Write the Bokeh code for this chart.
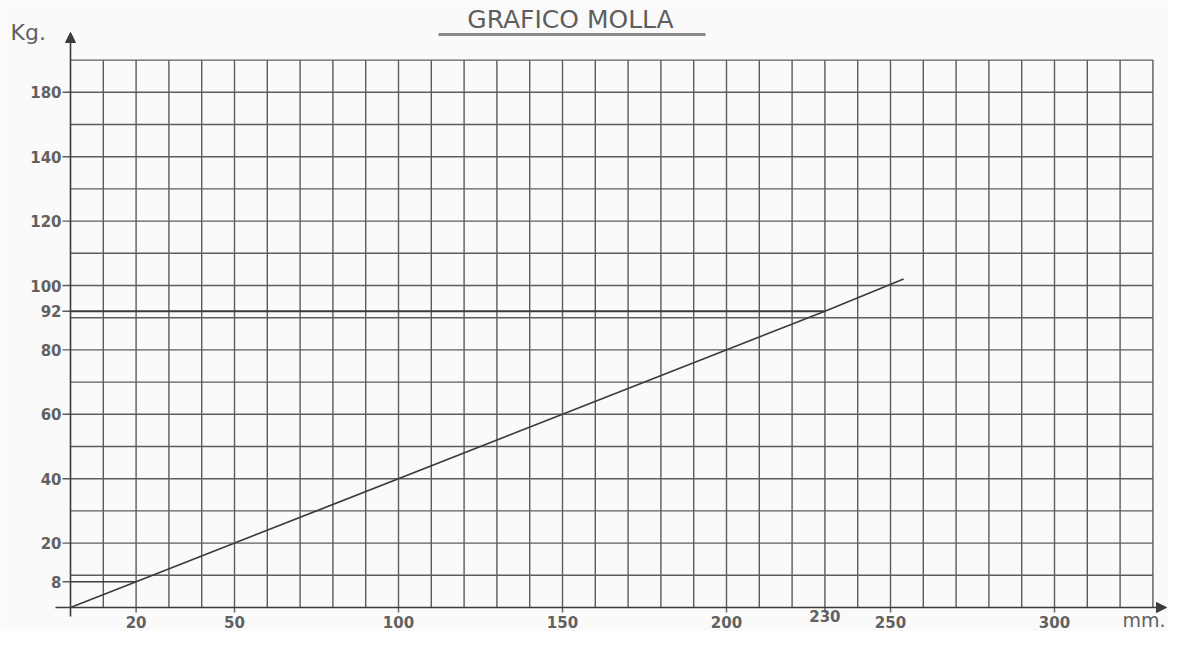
from bokeh.plotting import figure
from bokeh.models import Range1d, Arrow, NormalHead
from bokeh.core.properties import value
from bokeh.embed import file_html
from bokeh.resources import INLINE

# ---------------- data ----------------
title_text = "GRAFICO MOLLA"
x_unit = "mm."
y_unit = "Kg."

x_grid = [0, 10, 20, 30, 40, 50, 60, 70, 80, 90, 100, 110, 120, 130, 140, 150, 160,
          170, 180, 190, 200, 210, 220, 230, 240, 250, 260, 270, 280, 290, 300, 310, 320, 330]
y_grid = [0, 10, 20, 30, 40, 50, 60, 70, 80, 90, 100, 110, 120, 130, 140, 150, 160, 170]

x_tick_values = [20, 50, 100, 150, 200, 230, 250, 300]
x_tick_labels = ["20", "50", "100", "150", "200", "230", "250", "300"]
y_tick_values = [8, 20, 40, 60, 80, 92, 100, 120, 140, 160]
y_tick_labels = ["8", "20", "40", "60", "80", "92", "100", "120", "140", "180"]

spring_mm = [0, 20, 230, 254]
spring_kg = [0, 8, 92, 102]

ref_mm = [20, 230]
ref_kg = [8, 92]

# ---------------- layout ----------------
W, H = 1168, 631
SX, SY = 3.28, 3.22          # px per unit
X0, Y0 = 70, 607             # pixel position of the origin (from left / top)


def dx(px):
    return (px - X0) / SX


def dy(py):
    return (Y0 - py) / SY


p = figure(width=W, height=H, output_backend="svg", toolbar_location=None,
           x_range=Range1d(dx(0), dx(W)), y_range=Range1d(dy(H), dy(0)),
           x_axis_location=None, y_axis_location=None, min_border=0)
p.grid.visible = False
p.outline_line_color = None
p.background_fill_color = "#fafafa"
p.border_fill_color = "#fafafa"

GRID_C = "#5c5c5c"
INK = "#3c3c3c"
TXT = "#616161"

xmax, ymax = x_grid[-1], y_grid[-1]

# grid
p.segment(x0=x_grid[1:], y0=[0] * (len(x_grid) - 1), x1=x_grid[1:], y1=[ymax] * (len(x_grid) - 1),
          line_color=GRID_C, line_width=1.4)
p.segment(x0=[0] * (len(y_grid) - 1), y0=y_grid[1:], x1=[xmax] * (len(y_grid) - 1), y1=y_grid[1:],
          line_color=GRID_C, line_width=1.4)

# small ticks
p.segment(x0=x_tick_values, y0=[0] * len(x_tick_values), x1=x_tick_values,
          y1=[dy(Y0 + 5)] * len(x_tick_values), line_color=GRID_C, line_width=1.4)
p.segment(x0=[dx(X0 - 8)] * len(y_tick_values), y0=y_tick_values, x1=[0] * len(y_tick_values),
          y1=y_tick_values, line_color=GRID_C, line_width=1.4)

# reference lines (8 kg at 20 mm, 92 kg at 230 mm)
p.segment(x0=[0] * len(ref_mm), y0=ref_kg, x1=ref_mm, y1=ref_kg,
          line_color=INK, line_width=[1.3, 2.2])

# axes with arrows
p.add_layout(Arrow(x_start=dx(X0 - 15), y_start=0, x_end=dx(W - 2), y_end=0,
                   line_color=INK, line_width=1.6,
                   end=NormalHead(size=10, fill_color=INK, line_color=INK)))
p.add_layout(Arrow(x_start=0, y_start=dy(Y0 + 9), x_end=0, y_end=dy(32),
                   line_color=INK, line_width=1.6,
                   end=NormalHead(size=10, fill_color=INK, line_color=INK)))

# spring characteristic
p.line(spring_mm, spring_kg, line_color=INK, line_width=1.7)

# tick labels
xl_y = [dy(Y0 + 14) if v != 230 else dy(Y0 + 8) for v in x_tick_values]
p.text(x=x_tick_values, y=xl_y, text=x_tick_labels, text_align="center",
       text_baseline="middle", text_font=value("DejaVu Sans"), text_font_size="15px",
       text_font_style="bold", text_color=TXT)
p.text(x=[dx(X0 - 9)] * len(y_tick_values), y=y_tick_values, text=y_tick_labels,
       text_align="right", text_baseline="middle", text_font=value("DejaVu Sans"),
       text_font_size="15px", text_font_style="bold", text_color=TXT)

# axis titles
p.text(x=[dx(W - 3)], y=[dy(Y0 + 12)], text=[x_unit], text_align="right",
       text_baseline="middle", text_font=value("DejaVu Sans"), text_font_size="19px",
       text_color=TXT)
p.text(x=[dx(10)], y=[dy(32)], text=[y_unit], text_align="left",
       text_baseline="middle", text_font=value("DejaVu Sans"), text_font_size="22px",
       text_color=TXT)

# title with underline
p.text(x=[dx(570)], y=[dy(19)], text=[title_text], text_align="center",
       text_baseline="middle", text_font=value("DejaVu Sans"), text_font_size="25px",
       text_color="#5e5e5e")
p.segment(x0=[dx(438)], y0=[dy(34)], x1=[dx(705)], y1=[dy(34)],
          line_color="#8a8a8a", line_width=3)

open("out.html", "w").write(file_html(p, INLINE))
